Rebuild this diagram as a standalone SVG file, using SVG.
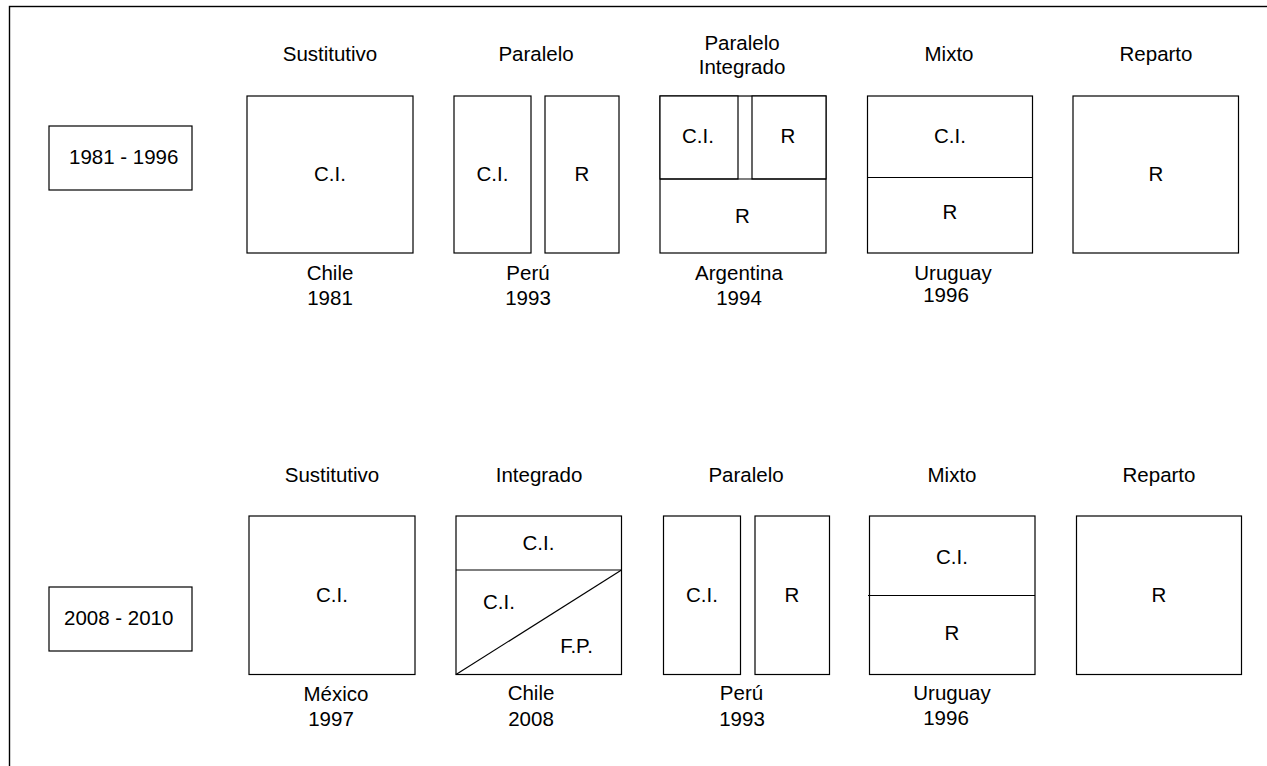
<svg xmlns="http://www.w3.org/2000/svg" width="1267" height="766" viewBox="0 0 1267 766">
<style>
.b{fill:#fff;stroke:#000;stroke-width:1.2}
.l{fill:none;stroke:#000;stroke-width:1.2}
text{font-family:"Liberation Sans",Arial,sans-serif;font-size:20.5px;fill:#000;text-anchor:middle}
.s{text-anchor:start}
</style>
<rect width="1267" height="766" fill="#fff"/>
<rect x="9.5" y="6.5" width="1300" height="800" fill="none" stroke="#000" stroke-width="1.4"/>

<g id="period1">
<rect class="b" x="49" y="126" width="143" height="64"/>
<text class="s" x="69" y="164">1981 - 1996</text>
</g>
<g id="period2">
<rect class="b" x="49" y="587" width="143" height="64"/>
<text class="s" x="64" y="625">2008 - 2010</text>
</g>

<g id="r1-sustitutivo">
<text x="330" y="61">Sustitutivo</text>
<rect class="b" x="247" y="96" width="166" height="157"/>
<text x="330" y="181">C.I.</text>
<text x="330" y="280">Chile</text>
<text x="330" y="305">1981</text>
</g>

<g id="r1-paralelo">
<text x="536" y="61">Paralelo</text>
<rect class="b" x="454" y="96" width="77" height="157"/>
<rect class="b" x="545" y="96" width="74" height="157"/>
<text x="492.5" y="181">C.I.</text>
<text x="582" y="181">R</text>
<text x="528" y="280">Perú</text>
<text x="528" y="305">1993</text>
</g>

<g id="r1-paralelo-integrado">
<text x="742" y="50">Paralelo</text>
<text x="742" y="74">Integrado</text>
<rect class="b" x="660" y="96" width="166" height="157"/>
<rect class="b" x="660" y="96" width="78" height="83"/>
<rect class="b" x="752" y="96" width="74" height="83"/>
<line class="l" x1="660" y1="179" x2="826" y2="179"/>
<text x="698" y="143">C.I.</text>
<text x="788" y="143">R</text>
<text x="742.5" y="223">R</text>
<text x="739" y="280">Argentina</text>
<text x="739" y="305">1994</text>
</g>

<g id="r1-mixto">
<text x="949" y="61">Mixto</text>
<rect class="b" x="867.5" y="96" width="165" height="157"/>
<line class="l" x1="867.5" y1="177.5" x2="1032.5" y2="177.5"/>
<text x="950" y="143">C.I.</text>
<text x="950" y="219">R</text>
<text x="953" y="280">Uruguay</text>
<text x="946" y="302">1996</text>
</g>

<g id="r1-reparto">
<text x="1156" y="61">Reparto</text>
<rect class="b" x="1073" y="96" width="165.5" height="157"/>
<text x="1156" y="181">R</text>
</g>

<g id="r2-sustitutivo">
<text x="332" y="482">Sustitutivo</text>
<rect class="b" x="249" y="516" width="166" height="158.5"/>
<text x="332" y="602">C.I.</text>
<text x="336" y="701">México</text>
<text x="331" y="726">1997</text>
</g>

<g id="r2-integrado">
<text x="539" y="482">Integrado</text>
<rect class="b" x="456" y="516" width="165.5" height="158.5"/>
<line class="l" x1="456" y1="570" x2="621.5" y2="570"/>
<line class="l" x1="456" y1="674.5" x2="621.5" y2="570"/>
<text x="538.5" y="550">C.I.</text>
<text x="499" y="609">C.I.</text>
<text x="576.5" y="652.5">F.P.</text>
<text x="531" y="700">Chile</text>
<text x="531" y="725.5">2008</text>
</g>

<g id="r2-paralelo">
<text x="746" y="482">Paralelo</text>
<rect class="b" x="663.5" y="516" width="77" height="158.5"/>
<rect class="b" x="755" y="516" width="74.5" height="158.5"/>
<text x="702" y="602">C.I.</text>
<text x="792" y="602">R</text>
<text x="741.5" y="700">Perú</text>
<text x="742" y="725.5">1993</text>
</g>

<g id="r2-mixto">
<text x="952" y="482">Mixto</text>
<rect class="b" x="869.5" y="516" width="165.5" height="158.5"/>
<line class="l" x1="868" y1="595.5" x2="1035" y2="595.5"/>
<text x="952" y="564">C.I.</text>
<text x="952" y="639.5">R</text>
<text x="952" y="700">Uruguay</text>
<text x="946" y="724.5">1996</text>
</g>

<g id="r2-reparto">
<text x="1159" y="482">Reparto</text>
<rect class="b" x="1076.5" y="516" width="165" height="158.5"/>
<text x="1159" y="602">R</text>
</g>

<g id="connectors"></g>
</svg>
